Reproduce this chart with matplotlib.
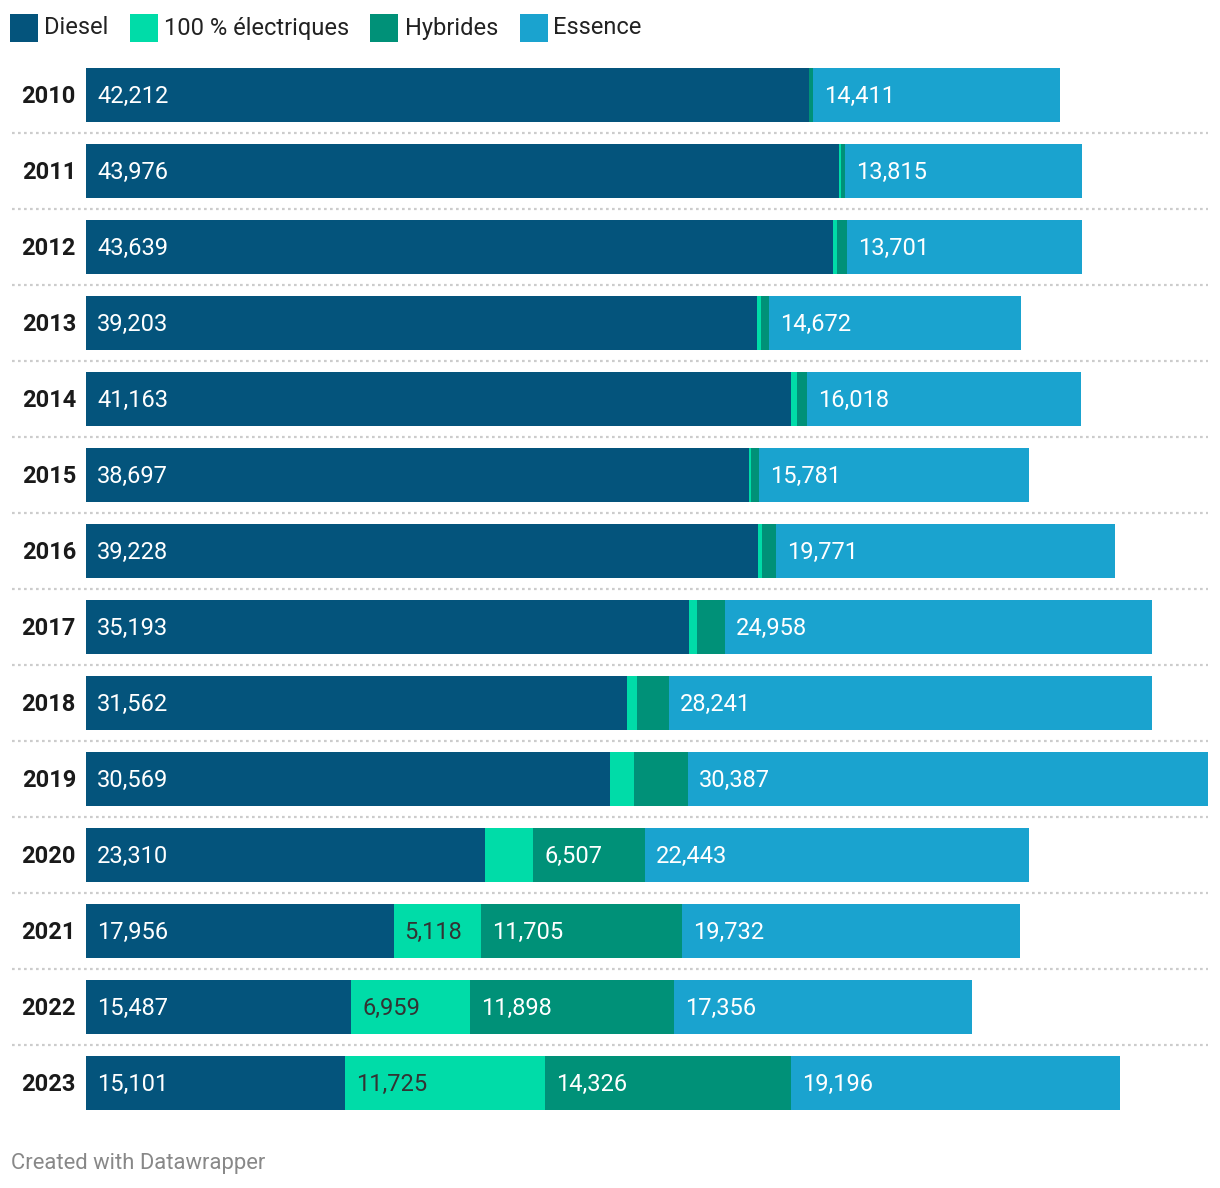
import numpy as np
import matplotlib.pyplot as plt
from matplotlib.lines import Line2D
from matplotlib.patches import Rectangle

plt.rcParams['font.family'] = ['Roboto', 'DejaVu Sans']

years = ["2010", "2011", "2012", "2013", "2014", "2015", "2016",
         "2017", "2018", "2019", "2020", "2021", "2022", "2023"]
diesel = [42212, 43976, 43639, 39203, 41163, 38697, 39228,
          35193, 31562, 30569, 23310, 17956, 15487, 15101]
electric = [0, 100, 230, 230, 350, 120, 230,
            470, 580, 1400, 2800, 5118, 6959, 11725]
hybrid = [230, 230, 580, 470, 580, 470, 820,
          1630, 1870, 3150, 6507, 11705, 11898, 14326]
essence = [14411, 13815, 13701, 14672, 16018, 15781, 19771,
           24958, 28241, 30387, 22443, 19732, 17356, 19196]

series = ["Diesel", "100 % électriques", "Hybrides", "Essence"]
colors = ["#04547c", "#00dca8", "#009178", "#1aa3cf"]
text_colors = ["white", "#333333", "white", "white"]

W, H = 1220, 1188
fig = plt.figure(figsize=(W / 100, H / 100), dpi=100)
ax = fig.add_axes([86 / W, 1 - 1121 / H, (1208 - 86) / W, 1064 / H])

data = np.array([diesel, electric, hybrid, essence], dtype=float)
totals = data.sum(axis=0)
xmax = totals.max()
px_per_unit = (1208 - 86) / xmax
y = np.arange(len(years))

left = np.zeros(len(years))
for i, name in enumerate(series):
    ax.barh(y, data[i], left=left, height=54 / 76, color=colors[i], linewidth=0)
    for j in range(len(years)):
        v = data[i, j]
        if v > 5000:
            ax.text(left[j] + 11 / px_per_unit, y[j] + 0.02, f"{int(v):,}",
                    va="center", ha="left", color=text_colors[i], fontsize=17)
    left += data[i]

ax.set_xlim(0, xmax)
ax.set_ylim(len(years) - 0.5, -0.5)
ax.axis("off")

# year labels
for j, yr in enumerate(years):
    yc = 1 - (96.5 + 76 * j) / H
    fig.text(76 / W, yc, yr, ha="right", va="center", fontsize=17,
             fontweight="bold", color="#1a1a1a")

# dotted separators
for j in range(len(years) - 1):
    yy = 1 - (133 + 76 * j) / H
    fig.add_artist(Line2D([12 / W, 1208 / W], [yy, yy], color="#cccccc",
                          linewidth=1.6, linestyle=(0, (1.2, 1.5))))

# legend
sq_x = [10, 130, 370, 520]
tx_x = [44, 164, 405, 553]
for i, name in enumerate(series):
    fig.add_artist(Rectangle((sq_x[i] / W, 1 - 42 / H), 28 / W, 28 / H,
                             facecolor=colors[i], edgecolor="none",
                             transform=fig.transFigure))
    fig.text(tx_x[i] / W, 1 - 28 / H, name, ha="left", va="center",
             fontsize=17, color="#222222")

fig.text(11 / W, 1 - 1163 / H, "Created with Datawrapper", ha="left",
         va="center", fontsize=15.8, color="#888888")

fig.savefig("out.png", dpi=100, facecolor="white")
